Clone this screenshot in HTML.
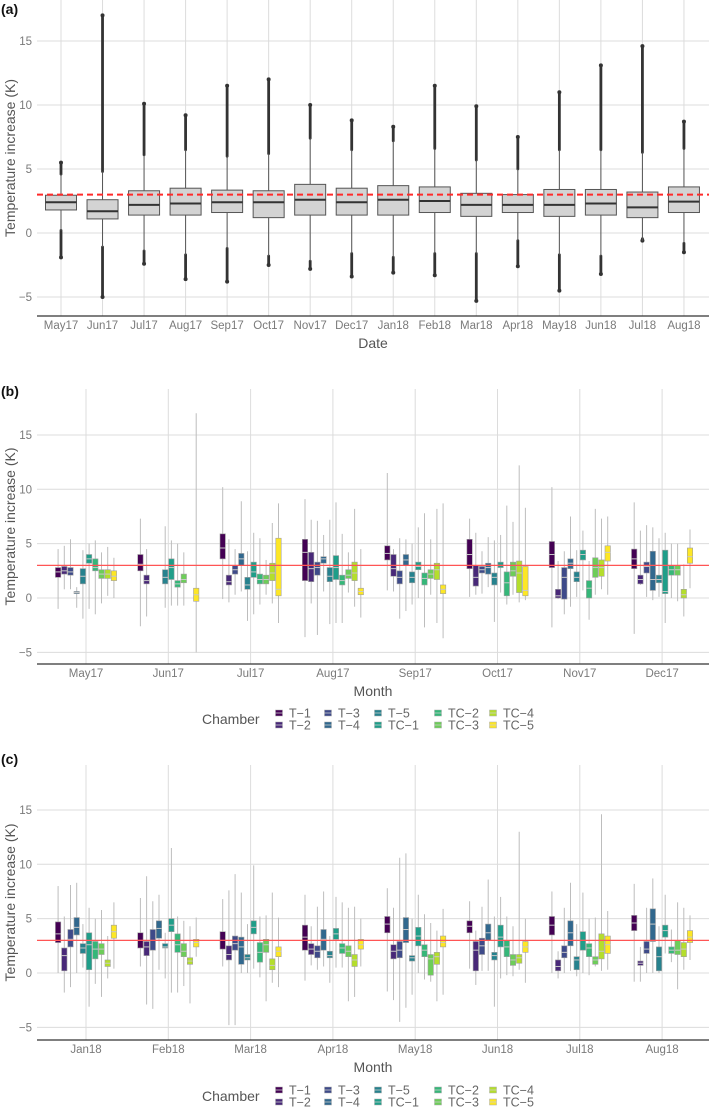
<!DOCTYPE html>
<html><head><meta charset="utf-8">
<style>
html,body{margin:0;padding:0;background:#fff;}
svg{display:block;font-family:"Liberation Sans",Arial,sans-serif;}
</style></head>
<body>
<svg id="fig" width="709" height="1114" viewBox="0 0 709 1114" xmlns="http://www.w3.org/2000/svg"></svg>
<script>
// ---------- Panel (a) data ----------
const aMonths = ["May17","Jun17","Jul17","Aug17","Sep17","Oct17","Nov17","Dec17","Jan18","Feb18","Mar18","Apr18","May18","Jun18","Jul18","Aug18"];
const aQ1  = [1.8,1.1,1.4,1.4,1.6,1.2,1.4,1.4,1.4,1.6,1.3,1.6,1.3,1.4,1.2,1.6];
const aMed = [2.4,1.7,2.2,2.3,2.4,2.4,2.6,2.4,2.6,2.5,2.2,2.2,2.2,2.3,2.0,2.45];
const aQ3  = [2.95,2.6,3.3,3.5,3.35,3.3,3.8,3.5,3.7,3.6,3.1,3.0,3.4,3.4,3.2,3.6];
const aWlo = [0.2,-1.1,-1.4,-1.7,-1.2,-1.8,-2.2,-1.6,-1.9,-1.6,-1.6,-0.6,-1.7,-1.8,-0.6,-0.8];
const aWhi = [4.6,4.8,6.1,6.5,6.0,6.2,7.4,6.5,7.2,6.6,5.7,5.0,6.5,6.5,6.3,6.6];
const aOmin = [-1.9,-5.0,-2.4,-3.6,-3.8,-2.5,-2.8,-3.4,-3.1,-3.3,-5.3,-2.6,-4.5,-3.2,-0.6,-1.5];
const aOmax = [5.5,17.0,10.1,9.2,11.5,12.0,10.0,8.8,8.3,11.5,9.9,7.5,11.0,13.1,14.6,8.7];
const yTicks = [-5,0,5,10,15];
const threshold = 3;

// ---------- Panel (b)/(c) data: [low, q1, median, q3, high] ----------
const chambers = ["T-1","T-2","T-3","T-4","T-5","TC-1","TC-2","TC-3","TC-4","TC-5"];
const chamberColors = ["#440154","#482878","#3E4A89","#31688E","#26828E","#1F9E89","#35B779","#6DCD59","#B4DE2C","#FDE725"];
const bMonths = ["May17","Jun17","Jul17","Aug17","Sep17","Oct17","Nov17","Dec17"];
const cMonths = ["Jan18","Feb18","Mar18","Apr18","May18","Jun18","Jul18","Aug18"];

const bT1 = [[-1.0,1.9,2.4,2.8,4.5],[-2.6,2.5,3.1,4.0,7.3],[-0.1,3.6,4.6,5.9,10.2],[-3.6,1.6,4.2,5.4,9.1],[0.7,3.5,4.1,4.8,11.5],[0.1,2.7,4.0,5.4,7.3],[-2.7,2.8,4.0,5.2,10.2],[-3.3,2.7,3.6,4.5,8.8]];
const bT2 = [[0.8,2.2,2.5,2.9,4.8],[-1.7,1.3,1.6,2.1,4.5],[-0.4,1.2,1.5,2.1,5.4],[-0.5,1.5,2.7,4.2,7.2],[0.6,2.0,2.7,4.0,4.5],[0.3,1.1,1.9,3.0,6.0],[-0.1,0.0,0.2,0.8,3.4],[1.2,1.3,1.7,2.1,6.2]];
const bT3 = [[0.8,2.1,2.4,2.8,5.4],null,[0.3,2.2,2.6,3.0,4.5],[-3.4,2.1,2.8,3.3,7.1],[-1.9,1.3,1.9,2.5,5.5],[0.4,2.3,2.6,2.9,4.3],[-1.5,-0.1,1.9,2.8,4.3],[0.1,2.3,2.9,3.3,6.7]];
const bT4 = [[-0.9,0.4,0.5,0.6,1.0],null,[0.6,3.0,3.6,4.1,8.9],[0.6,3.2,3.6,3.8,5.8],[-1.2,3.0,3.5,4.0,5.4],[1.0,2.2,2.8,3.2,5.6],[-0.8,2.7,3.2,3.6,7.5],[-0.2,0.7,1.7,4.3,6.5]];
const bT5 = [[-1.9,1.3,2.0,2.7,4.4],[-0.9,1.3,1.9,2.6,6.6],[-2.1,0.8,1.2,1.9,4.3],[-2.4,1.5,2.0,2.8,7.2],[-0.6,1.4,1.9,2.4,5.0],[-2.2,1.2,1.9,2.3,5.3],[0.1,1.5,1.9,2.4,4.4],[0.1,1.4,1.7,2.1,5.5]];
const bTC1 = [[-1.0,3.2,3.6,4.0,5.0],[-0.7,1.7,2.8,3.6,5.3],[-1.5,1.9,2.4,3.3,6.0],[-2.3,1.7,2.8,3.9,8.8],[0,2.6,2.9,3.3,6.5],[0.5,2.8,3.0,3.3,5.8],[0.7,3.5,4.0,4.4,6.2],[-2.3,0.4,0.6,4.4,6.0]];
const bTC2 = [[-1.5,2.5,2.8,3.6,5.3],[-0.7,1.0,1.3,1.6,5.0],[-0.6,1.3,1.7,2.2,5.5],[-2.3,1.2,1.6,2.1,5.9],[-2.7,1.2,1.8,2.3,7.8],[-0.6,0.2,1.4,2.4,8.5],[-2.0,0.0,0.9,1.6,3.4],[0,2.1,2.6,3.0,5.0]];
const bTC3 = [[-0.5,1.8,2.2,2.6,4.2],[-0.7,1.4,1.7,2.2,4.2],[0.3,1.3,1.7,2.1,3.5],[0.5,1.8,2.1,2.6,4.2],[0.3,1.8,2.2,2.6,5.4],[0.3,2.0,2.5,3.3,7.0],[0.3,1.9,2.8,3.7,8.2],[-0.3,2.1,2.6,3.0,5.0]];
const bTC4 = [[0.2,1.8,2.2,2.6,4.7],null,[-0.5,1.6,2.3,3.2,6.9],[-0.8,1.6,2.3,3.3,8.2],[-2.3,1.7,2.6,3.2,8.2],[-0.4,0.5,2.3,3.4,12.2],[0.8,2.0,2.8,3.5,7.3],[-1.7,0.0,0.3,0.8,3.1]];
const bTC5 = [[0,1.6,2.0,2.5,3.7],[-5,-0.3,0.3,0.9,17],[-2.3,0.2,0.8,5.5,8.7],[-1.8,0.3,0.6,0.9,4.5],[-3.7,0.4,0.8,1.2,8.7],[-0.2,0.2,0.7,2.9,8.3],[0.3,3.4,4.2,4.8,7.5],[0.9,3.2,3.8,4.6,6.3]];

const cT1 = [[0,2.8,3.6,4.7,8.0],[0.6,2.3,3.0,3.7,6.9],[0.6,2.2,3.0,3.8,6.8],[-0.7,2.1,3.3,4.4,7.2],[-1.7,3.7,4.5,5.2,7.8],[0.4,3.7,4.3,4.8,6.6],[0,3.5,4.4,5.2,7.5],[-0.8,3.9,4.6,5.3,8.2]];
const cT2 = [[-1.8,0.2,1.6,2.3,5.2],[-2.9,1.6,2.4,2.9,8.9],[-4.8,1.2,1.7,2.5,7.6],[0.7,1.7,2.2,2.7,4.3],[-2.5,1.3,2.0,2.6,6.0],[-1.1,0.2,2.1,2.9,3.9],[-0.5,0.2,0.6,1.2,2.0],[-0.8,0.7,0.9,1.1,2.4]];
const cT3 = [[-1.3,2.4,3.1,4.0,8.1],[-3.3,2.1,3.0,4.0,6.6],[-4.8,2.1,2.7,3.4,9.1],[0.3,1.4,2.0,2.5,6.1],[-4.5,1.4,2.1,2.9,10.6],[0.2,1.7,2.5,3.2,6.1],[0,1.4,1.9,2.5,6.0],[0,1.8,2.2,2.9,6.0]];
const cT4 = [[0,3.5,4.2,5.1,8.3],[0.3,3.2,4.1,4.8,7.2],[0,0.8,2.4,3.3,7.4],[0.6,2.1,3.1,4.0,7.5],[-3.2,2.8,4.0,5.1,11.0],[0.2,3.0,3.7,4.5,8.6],[0.2,2.5,3.7,4.8,8.3],[0,2.9,4.5,5.9,8.7]];
const cT5 = [[0.5,1.8,2.3,2.7,4.5],[-0.5,2.3,2.4,2.7,3.7],[0,1.2,1.4,1.7,4.5],[-0.9,1.4,1.6,2.0,3.4],[-2.0,1.1,1.4,1.6,5.0],[-3.1,1.2,1.6,1.9,5.2],[-0.3,0.3,1.2,1.5,4.5],[0,0.2,1.5,2.4,4.3]];
const cTC1 = [[-3.1,0.3,2.6,3.7,6.0],[-1.8,3.8,4.4,5.0,11.5],[0.4,3.6,4.2,4.8,9.9],[0.5,3.1,3.6,4.1,7.0],[0,2.5,3.4,4.2,7.2],[-0.5,2.4,3.3,4.4,7.0],[0,2.1,3.0,3.8,7.4],[1.8,3.3,3.9,4.4,7.2]];
const cTC2 = [[-1.0,1.3,2.2,2.9,5.0],[-1.8,1.9,2.6,3.6,5.2],[-0.4,1.0,1.9,2.8,5.2],[0.5,1.8,2.3,2.7,6.5],[-0.6,1.5,2.1,2.6,5.4],[-0.2,1.5,2.4,3.0,5.2],[-0.2,1.5,2.3,2.7,5.0],[1.0,1.8,2.1,2.4,4.0]];
const cTC3 = [[-2.2,1.7,2.2,2.7,5.8],[-1.2,1.5,2.0,2.7,4.8],[-2.6,1.9,2.6,3.1,5.3],[-2.6,1.5,2.0,2.5,6.0],[-0.8,-0.2,1.3,1.7,4.6],[-0.3,0.7,1.2,1.7,4.3],[0.6,0.8,1.2,1.5,5.1],[-1.5,1.7,2.1,3.0,6.5]];
const cTC4 = [[-0.5,0.6,0.9,1.2,3.4],[-2.8,0.8,1.1,1.4,4.3],[-0.9,0.3,0.7,1.3,7.4],[-2.2,0.6,1.2,1.7,6.1],[-2.6,0.8,1.5,1.9,3.9],[0.3,0.9,1.4,1.7,13.0],[0.2,1.3,2.0,3.6,14.6],[0.3,1.5,2.2,2.8,6.0]];
const cTC5 = [[0.4,3.2,3.8,4.4,6.5],[1.5,2.4,2.8,3.1,5.1],[-1.3,1.5,2.0,2.4,5.1],[0.6,2.2,2.6,3.1,5.0],[-2.0,2.4,2.8,3.4,5.9],[-0.9,1.9,2.4,2.9,5.0],[0.3,1.8,2.6,3.4,5.7],[1.2,2.8,3.3,3.9,5.3]];

const bSeries = [bT1,bT2,bT3,bT4,bT5,bTC1,bTC2,bTC3,bTC4,bTC5];
const cSeries = [cT1,cT2,cT3,cT4,cT5,cTC1,cTC2,cTC3,cTC4,cTC5];

// ---------- helpers ----------
const NS = "http://www.w3.org/2000/svg";
const svg = document.getElementById("fig");
function mk(tag, attrs, parent){
  const e = document.createElementNS(NS, tag);
  for (const k in attrs) e.setAttribute(k, attrs[k]);
  (parent||svg).appendChild(e);
  return e;
}
function txt(s, attrs, parent){ const t = mk("text", attrs, parent); t.textContent = s; return t; }

function axesFrame(g, cfg){
  yTicks.forEach(v=>{
    const y = cfg.y(v);
    const gl = mk("line",{x1:cfg.left,x2:cfg.right,y1:y,y2:y,stroke:"#dcdcdc","stroke-width":1},g);
    
    
    const tl = txt(String(v).replace("-","\u2212"),{x:cfg.left-5,y:y+4,"text-anchor":"end","font-size":11.5,fill:"#7a7a7a"},g);
    
    
  });
  cfg.months.forEach((m,i)=>{
    const x = cfg.x(i);
    const vl = mk("line",{x1:x,x2:x,y1:cfg.top,y2:cfg.axisY,stroke:"#dcdcdc","stroke-width":1},g);
    
    
    const tl = txt(m,{x:x,y:cfg.axisY+13,"text-anchor":"middle","font-size":11.5,fill:"#7a7a7a"},g);
    
    
  });
}
function finishAxes(g, cfg, xTitle, tag, tagY){
  const al = mk("line",{x1:cfg.left,x2:cfg.right,y1:cfg.axisY,y2:cfg.axisY,stroke:"#333","stroke-width":1.3},g);
  
  
  const xt = txt(xTitle,{x:373,y:cfg.axisY+32,"text-anchor":"middle","font-size":14,fill:"#555"},g);
  
  
  const yc = (cfg.top+cfg.axisY)/2;
  const yt = txt("Temperature increase (K)",{x:0,y:0,transform:`translate(15,${yc}) rotate(-90)`,"text-anchor":"middle","font-size":14,fill:"#555"},g);
  
  
  const pt = txt(tag,{x:1,y:tagY,"font-size":14,"font-weight":"bold",fill:"#111"},g);
  
  
}

// ---------- Panel (a) ----------
(function(){
  const g = mk("g",{});
  
  
  const cfg = {left:37,right:709,top:0,axisY:316,months:aMonths,
    x:i=>61+i*41.53, y:v=>233-v*12.8};
  axesFrame(g,cfg);
  const bw = 31;
  aMonths.forEach((m,i)=>{
    const x = cfg.x(i);
    const bg = mk("g",{},g);
    
    
    mk("line",{x1:x,x2:x,y1:cfg.y(aOmax[i])+2,y2:cfg.y(aWhi[i]),stroke:"#333","stroke-width":2.8,"stroke-linecap":"round"},bg);
    mk("line",{x1:x,x2:x,y1:cfg.y(aWlo[i]),y2:cfg.y(aOmin[i])-2,stroke:"#333","stroke-width":2.8,"stroke-linecap":"round"},bg);
    mk("circle",{cx:x,cy:cfg.y(aOmax[i]),r:2,fill:"#333"},bg);
    mk("circle",{cx:x,cy:cfg.y(aOmin[i]),r:2,fill:"#333"},bg);
    mk("line",{x1:x,x2:x,y1:cfg.y(aWhi[i]),y2:cfg.y(aWlo[i]),stroke:"#555","stroke-width":1},bg);
    mk("rect",{x:x-bw/2,y:cfg.y(aQ3[i]),width:bw,height:cfg.y(aQ1[i])-cfg.y(aQ3[i]),fill:"#d3d3d3",stroke:"#555","stroke-width":1},bg);
    mk("line",{x1:x-bw/2,x2:x+bw/2,y1:cfg.y(aMed[i]),y2:cfg.y(aMed[i]),stroke:"#333","stroke-width":2},bg);
  });
  const rl = mk("line",{x1:cfg.left,x2:cfg.right,y1:cfg.y(threshold),y2:cfg.y(threshold),stroke:"#ff2a2a","stroke-width":2,"stroke-dasharray":"6,4"},g);
  
  
  finishAxes(g,cfg,"Date","(a)",14);
})();

// ---------- Panels (b) & (c) ----------
function chamberPanel(series, months, top, axisY, zeroY, tag, tagY, legendY, name){
  const g = mk("g",{});
  
  
  const cfg = {left:37,right:709,top:top,axisY:axisY,months:months,
    x:i=>86+i*82.3, y:v=>zeroY-v*10.87};
  axesFrame(g,cfg);
  const bw = 5.4, slot = 6.2;
  series.forEach((arr,c)=>{
    arr.forEach((s,i)=>{
      if(!s) return;
      const x = cfg.x(i)+(c-4.5)*slot;
      const bg = mk("g",{},g);
      
      
      mk("line",{x1:x,x2:x,y1:cfg.y(s[4]),y2:cfg.y(s[0]),stroke:"#bdbdbd","stroke-width":1},bg);
      mk("rect",{x:x-bw/2,y:cfg.y(s[3]),width:bw,height:Math.max(1,cfg.y(s[1])-cfg.y(s[3])),fill:chamberColors[c],stroke:"#a0a0a0","stroke-width":0.6},bg);
      mk("line",{x1:x-bw/2,x2:x+bw/2,y1:cfg.y(s[2]),y2:cfg.y(s[2]),stroke:"#c8c8c8","stroke-width":1},bg);
    });
  });
  const rl = mk("line",{x1:cfg.left,x2:cfg.right,y1:cfg.y(threshold),y2:cfg.y(threshold),stroke:"#ff5555","stroke-width":1.2},g);
  
  
  finishAxes(g,cfg,"Month",tag,tagY);
  const lg = mk("g",{},g);
  
  
  const lt = txt("Chamber",{x:202,y:legendY+11,"font-size":14,fill:"#555"},lg);
  
  
  const colX = [279,328,378,438,493];
  chambers.forEach((ch,k)=>{
    const col = Math.floor(k/2), row = k%2;
    const x = colX[col], y = legendY + row*12;
    const eg = mk("g",{},lg);
    
    
    mk("rect",{x:x-3.5,y:y-3,width:7,height:6,fill:chamberColors[k],stroke:"#aaa","stroke-width":0.5},eg);
    mk("line",{x1:x-3.5,x2:x+3.5,y1:y,y2:y,stroke:"#ccc","stroke-width":0.8},eg);
    txt(ch.replace("-","\u2212"),{x:x+10,y:y+4.5,"font-size":12.5,fill:"#666"},eg);
  });
}
chamberPanel(bSeries,bMonths,389,664,598,"(b)",396,713,"panel-b");
chamberPanel(cSeries,cMonths,765,1040,973,"(c)",764,1090,"panel-c");
</script>
</body></html>
